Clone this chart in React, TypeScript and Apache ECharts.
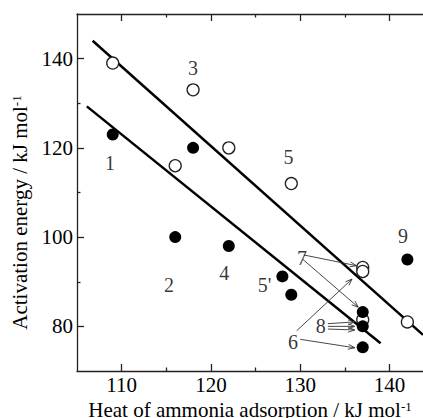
import React, { useEffect, useRef } from "react";
import * as echarts from "echarts";

const FONT = "Liberation Serif";

const xMin = 105;
const xMax = 143.75;
const yMin = 70;
const yMax = 150;
const xMajorTicks = [110, 120, 130, 140];
const xMinorTicks = [115, 125, 135];
const yMajorTicks = [80, 100, 120, 140];
const yMinorTicks = [90, 110, 130];

// open circles
const openX = [109, 116, 118, 122, 129, 137, 137, 137, 142];
const openY = [139, 116, 133, 120, 112, 93.2, 92.3, 81.5, 81];
// filled circles
const filledX = [109, 116, 118, 122, 128, 129, 137, 137, 137, 142];
const filledY = [123, 100, 120, 98, 91.2, 87.1, 83.2, 80, 75.3, 95];

// regression lines (end points)
const upperFitX = [106.75, 143.75];
const upperFitY = [144, 78.1];
const lowerFitX = [106.1, 139];
const lowerFitY = [129.3, 76.2];

// annotation labels
const labelText = ["1", "2", "3", "4", "5", "5'", "6", "7", "8", "9"];
const labelX = [108.7, 115.3, 118, 121.5, 128.7, 126, 129.2, 130.2, 132.3, 141.5];
const labelY = [116.5, 89.3, 137.8, 92, 118, 89.3, 76.6, 95.3, 80, 100.2];

// arrows: from (x1,y1) to (x2,y2)
const arrowX1 = [130.4, 130.3, 129.6, 130.0, 133.1, 133.1, 133.1];
const arrowY1 = [96.0, 95.0, 79.0, 77.1, 80.6, 80.0, 79.4];
const arrowX2 = [136.3, 136.5, 135.8, 136.1, 136.1, 136.1, 136.1];
const arrowY2 = [93.6, 84.3, 90.6, 75.2, 81.0, 80.0, 79.2];

const AXIS_COLOR = "#222";
const FS = 21;

const supRich = { sup: { fontFamily: FONT, fontSize: 13, color: "#000", verticalAlign: "top", lineHeight: 11 } };

function xAxisDef(position: "top" | "bottom", ticks: number[], len: number, major: boolean, withLine: boolean, withLabels: boolean) {
  return {
    type: "value",
    position,
    min: xMin,
    max: xMax,
    splitLine: { show: false },
    axisLine: { show: withLine, onZero: false, lineStyle: { color: AXIS_COLOR, width: 1.3 } },
    axisTick: { show: true, inside: true, length: len, customValues: ticks, lineStyle: { color: AXIS_COLOR, width: 1.3 } },
    axisLabel: withLabels
      ? { show: true, customValues: ticks, margin: 3, fontFamily: FONT, fontSize: FS, color: "#000" }
      : { show: false },
    ...(major && position === "bottom"
      ? {
          name: "Heat of ammonia adsorption / kJ mol{sup|-1}",
          nameLocation: "middle",
          nameGap: 27,
          nameTextStyle: { fontFamily: FONT, fontSize: FS, color: "#000", lineHeight: 21, rich: supRich },
        }
      : {}),
  };
}

function yAxisDef(ticks: number[], len: number, major: boolean) {
  return {
    type: "value",
    position: "left",
    min: yMin,
    max: yMax,
    splitLine: { show: false },
    axisLine: { show: major, onZero: false, lineStyle: { color: AXIS_COLOR, width: 1.3 } },
    axisTick: { show: true, inside: true, length: len, customValues: ticks, lineStyle: { color: AXIS_COLOR, width: 1.3 } },
    axisLabel: major
      ? { show: true, customValues: ticks, margin: 4, fontFamily: FONT, fontSize: FS, color: "#000" }
      : { show: false },
    ...(major
      ? {
          name: "Activation energy / kJ mol{sup|-1}",
          nameLocation: "middle",
          nameGap: 40,
          nameTextStyle: {
            fontFamily: FONT,
            fontSize: FS,
            color: "#000",
            lineHeight: 21,
            padding: [0, 40, 0, 0],
            rich: supRich,
          },
        }
      : {}),
  };
}

export default function App() {
  const ref = useRef<HTMLDivElement>(null);
  useEffect(() => {
    if (!ref.current) return;
    const chart = echarts.init(ref.current, null, { renderer: "svg" });
    const openData = openX.map((x, i) => [x, openY[i]]);
    const filledData = filledX.map((x, i) => [x, filledY[i]]);
    const labelData = labelX.map((x, i) => [x, labelY[i], labelText[i]]);
    const arrowData = arrowX1.map((x, i) => [x, arrowY1[i], arrowX2[i], arrowY2[i]]);
    chart.setOption({
      animation: false,
      backgroundColor: "#fff",
      textStyle: { fontFamily: FONT },
      grid: { left: 77, top: 14, right: 0, bottom: 47, containLabel: false, outerBoundsMode: "none" },
      xAxis: [
        xAxisDef("bottom", xMajorTicks, 7, true, true, true),
        xAxisDef("bottom", xMinorTicks, 3.5, false, false, false),
        xAxisDef("top", xMajorTicks, 7, false, true, false),
        xAxisDef("top", xMinorTicks, 3.5, false, false, false),
      ],
      yAxis: [yAxisDef(yMajorTicks, 7, true), yAxisDef(yMinorTicks, 3.5, false)],
      series: [
        {
          type: "line",
          data: upperFitX.map((x, i) => [x, upperFitY[i]]),
          symbol: "none",
          lineStyle: { color: "#000", width: 2.5 },
          z: 2,
        },
        {
          type: "line",
          data: lowerFitX.map((x, i) => [x, lowerFitY[i]]),
          symbol: "none",
          lineStyle: { color: "#000", width: 2.5 },
          z: 2,
        },
        {
          type: "custom",
          coordinateSystem: "cartesian2d",
          encode: { x: [0, 2], y: [1, 3] },
          data: arrowData,
          z: 3,
          renderItem: (params: any, api: any) => {
            const p1 = api.coord([api.value(0), api.value(1)]);
            const p2 = api.coord([api.value(2), api.value(3)]);
            const ang = Math.atan2(p2[1] - p1[1], p2[0] - p1[0]);
            const L = 7;
            const a = 0.36;
            const h1 = [p2[0] - L * Math.cos(ang - a), p2[1] - L * Math.sin(ang - a)];
            const h2 = [p2[0] - L * Math.cos(ang + a), p2[1] - L * Math.sin(ang + a)];
            const style = { stroke: "#333", lineWidth: 0.9, fill: "none" };
            return {
              type: "group",
              children: [
                { type: "line", shape: { x1: p1[0], y1: p1[1], x2: p2[0], y2: p2[1] }, style },
                { type: "polyline", shape: { points: [h1, p2, h2] }, style },
              ],
            };
          },
        },
        {
          type: "scatter",
          data: openData,
          symbol: "circle",
          symbolSize: 12,
          itemStyle: { color: "#fff", borderColor: "#222", borderWidth: 1.3, opacity: 1 },
          z: 4,
        },
        {
          type: "scatter",
          data: filledData,
          symbol: "circle",
          symbolSize: 12,
          itemStyle: { color: "#000", opacity: 1 },
          z: 5,
        },
        {
          type: "scatter",
          data: labelData,
          symbolSize: 0,
          z: 6,
          label: {
            show: true,
            position: "inside",
            formatter: (p: any) => p.value[2],
            fontFamily: FONT,
            fontSize: 20,
            color: "#000",
          },
        },
      ],
    });
    return () => chart.dispose();
  }, []);
  return <div ref={ref} style={{ position: "fixed", left: 0, top: 0, width: 423, height: 418 }} />;
}
